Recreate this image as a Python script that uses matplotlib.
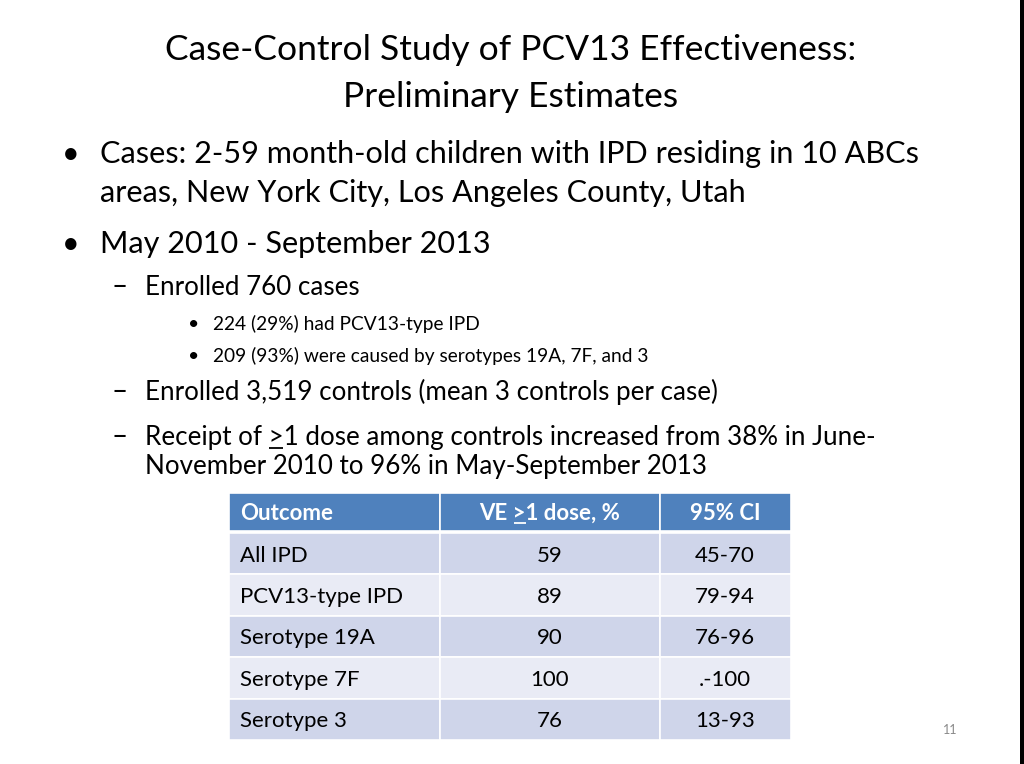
import matplotlib
matplotlib.use('Agg')
import matplotlib.pyplot as plt
from matplotlib.patches import Rectangle

plt.rcParams['font.family'] = ['Lato', 'DejaVu Sans']

# slide text
title_lines = ['Case-Control Study of PCV13 Effectiveness:', 'Preliminary Estimates']
bullet1 = ['Cases: 2-59 month-old children with IPD residing in 10 ABCs',
           'areas, New York City, Los Angeles County, Utah']
bullet2 = 'May 2010 - September 2013'
sub1 = 'Enrolled 760 cases'
subsub = ['224 (29%) had PCV13-type IPD',
          '209 (93%) were caused by serotypes 19A, 7F, and 3']
sub2 = 'Enrolled 3,519 controls (mean 3 controls per case)'
# the ">" after the prefix is underlined on the slide (">" underlined = at least)
sub3_prefix = 'Receipt of '
sub3 = ['Receipt of >1 dose among controls increased from 38% in June-',
        'November 2010 to 96% in May-September 2013']

# table data
col_headers = ['Outcome', 'VE >1 dose, %', '95% CI']
outcomes = ['All IPD', 'PCV13-type IPD', 'Serotype 19A', 'Serotype 7F', 'Serotype 3']
ve = ['59', '89', '90', '100', '76']
ci = ['45-70', '79-94', '76-96', '.-100', '13-93']
page_no = '11'

W, H = 1024, 764
fig = plt.figure(figsize=(W / 100, H / 100), dpi=100)
fig.patch.set_facecolor('white')
ax = fig.add_axes([0, 0, 1, 1])
ax.set_xlim(0, W)
ax.set_ylim(H, 0)
ax.axis('off')
renderer = fig.canvas.get_renderer()

txt = '#000000'


def text_width(s, **kw):
    t = ax.text(0, 0, s, **kw)
    w = t.get_window_extent(renderer).width
    t.remove()
    return w


def underline_gt(x, y, s, prefix, color, ha='left', **kw):
    # draw s, then underline the ">" that follows prefix
    ax.text(x, y, s, ha=ha, va='baseline', color=color, **kw)
    left = x
    if ha == 'center':
        left = x - text_width(s, **kw) / 2
    end = left + text_width(prefix + '>', **kw)
    start = end - text_width('>', **kw)
    ax.plot([start + 0.5, end - 0.5], [y + 3, y + 3], color=color, lw=1.3,
            solid_capstyle='butt')


def line(x, y, s, fs, **kw):
    ax.text(x, y, s, fontsize=fs, va='baseline', color=txt, **kw)


# title
line(511, 60, title_lines[0], 25.5, ha='center')
line(511, 107, title_lines[1], 25.5, ha='center')

# level 1 bullets
line(62, 163, '\u2022', 22)
line(100, 163, bullet1[0], 22.1)
line(100, 202, bullet1[1], 22.1)
line(62, 253, '\u2022', 22)
line(100, 253, bullet2, 22.1)

# level 2 / 3
line(111, 295, '\u2013', 20)
line(145, 295, sub1, 18.7)
for i, s in enumerate(subsub):
    y = 330 + i * 32
    line(188, y, '\u2022', 14)
    line(213, y, s, 13.8)
line(111, 400, '\u2013', 20)
line(145, 400, sub2, 18.7)
line(111, 445, '\u2013', 20)
underline_gt(145, 445, sub3[0], sub3_prefix, txt, fontsize=18.7)
line(145, 474, sub3[1], 18.7)

# table
col_edges = [229, 440, 660, 791]
header_top, header_bot = 493, 531
row_top = 533
row_h = (740 - row_top) / len(outcomes)
header_col = '#4F81BD'
band_cols = ['#CFD5EA', '#E9EBF5']
tfs = 16

for j in range(3):
    ax.add_patch(Rectangle((col_edges[j], header_top), col_edges[j + 1] - col_edges[j],
                           header_bot - header_top, facecolor=header_col,
                           edgecolor='white', linewidth=1.2))
ax.text(col_edges[0] + 11, 520, col_headers[0], fontsize=tfs, fontweight='bold',
        color='white', va='baseline')
underline_gt(550, 520, col_headers[1], 'VE ', 'white', ha='center',
             fontsize=tfs, fontweight='bold')
ax.text(725, 520, col_headers[2], fontsize=tfs, fontweight='bold', color='white',
        ha='center', va='baseline')

for i in range(len(outcomes)):
    top = row_top + i * row_h
    for j in range(3):
        ax.add_patch(Rectangle((col_edges[j], top), col_edges[j + 1] - col_edges[j], row_h,
                               facecolor=band_cols[i % 2], edgecolor='white', linewidth=1.2))
    yb = top + row_h / 2 + 8
    line(col_edges[0] + 11, yb, outcomes[i], tfs)
    line(550, yb, ve[i], tfs, ha='center')
    line(725, yb, ci[i], tfs, ha='center')

# page number and right edge strip
ax.text(950, 734, page_no, fontsize=9, color='#898989', ha='center', va='baseline')
ax.add_patch(Rectangle((1020, 0), 4, H, facecolor='black', edgecolor='none'))

fig.savefig('out.png', dpi=100, facecolor='white')
